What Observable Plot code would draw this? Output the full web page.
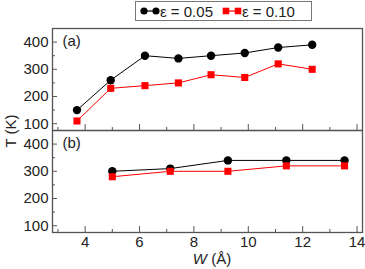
<!DOCTYPE html>
<html>
<head>
<meta charset="utf-8">
<script src="https://cdn.jsdelivr.net/npm/d3@7"></script>
<script src="https://cdn.jsdelivr.net/npm/@observablehq/plot@0.6"></script>
<style>
  body { margin: 0; background: #fff; }
  #wrap { position: relative; width: 365px; height: 269px; font-family: "Liberation Sans", Arial, sans-serif; color: #222; }
  #legend { position: absolute; left: 135px; top: 1px; width: 175px; height: 18px; border: 1.5px solid #777; background: #fff;
    display: flex; align-items: center; font-size: 15px; white-space: nowrap; }
  #legend svg { display: block; }
  #ylab { position: absolute; left: 10px; top: 131px; font-size: 15px; line-height: 1; white-space: nowrap;
    transform: translate(-50%, -50%) rotate(-90deg); }
  #xlab { position: absolute; left: 212px; top: 258px; font-size: 15px; line-height: 1; white-space: nowrap;
    transform: translate(-50%, -50%); }
</style>
</head>
<body>
<div id="wrap"></div>
<script>
// ---- data ----
const wA = [3.7, 4.94, 6.2, 7.43, 8.63, 9.87, 11.1, 12.35];
const tA005 = [150, 260, 350, 340, 350, 360, 380, 390];
const tA010 = [110, 230, 240, 250, 280, 270, 320, 300];
const wB = [5.0, 7.13, 9.25, 11.4, 13.54];
const tB005 = [300, 310, 340, 340, 340];
const tB010 = [280, 300, 300, 320, 320];
const seriesLabels = ["ε = 0.05", "ε = 0.10"];
const seriesColors = ["#000000", "#ff0000"];
const panelIds = ["a", "b"];
const panelLabels = ["(a)", "(b)"];
const yTicks = [100, 200, 300, 400];
const yMinor = [150, 250, 350];
const xTicks = [4, 6, 8, 10, 12, 14];
const xMinor = [3, 5, 7, 9, 11, 13];
const xTitle = "W";
const xUnit = " (Å)";
const yTitle = "T (K)";

// ---- build table ----
const rows = [];
wA.forEach((w, i) => {
  rows.push({panel: "a", series: seriesLabels[0], w, t: tA005[i]});
});
wA.forEach((w, i) => {
  rows.push({panel: "a", series: seriesLabels[1], w, t: tA010[i]});
});
wB.forEach((w, i) => {
  rows.push({panel: "b", series: seriesLabels[0], w, t: tB005[i]});
});
wB.forEach((w, i) => {
  rows.push({panel: "b", series: seriesLabels[1], w, t: tB010[i]});
});
const panels = panelIds.map((p, i) => ({panel: p, label: panelLabels[i]}));

const axisColor = "#555";

const chart = Plot.plot({
  width: 365,
  height: 269,
  marginLeft: 52,
  marginRight: 3,
  marginTop: 27,
  marginBottom: 37,
  style: {fontFamily: "Liberation Sans, Arial, sans-serif", fontSize: "15px", color: "#222", background: "white"},
  x: {domain: [2.8, 14.2], axis: null},
  y: {domain: [75, 450], axis: null},
  fy: {domain: panelIds, padding: 0, axis: null},
  color: {domain: seriesLabels, range: seriesColors},
  marks: [
    Plot.frame({stroke: axisColor, strokeWidth: 1.3}),
    // y ticks (inward) + labels
    Plot.axisY({ticks: yTicks, tickSize: -5, tickFormat: () => "", label: null, stroke: axisColor, facetAnchor: null}),
    Plot.axisY({ticks: yMinor, tickSize: -3, tickFormat: () => "", label: null, stroke: axisColor, facetAnchor: null}),
    Plot.axisY({ticks: yTicks, tickSize: 0, tickPadding: 4, label: null, facetAnchor: null, fill: "#222"}),
    // x ticks (inward) in all panels, labels only at bottom
    Plot.axisX({ticks: xTicks, tickSize: -6, tickFormat: () => "", label: null, stroke: axisColor, facetAnchor: null}),
    Plot.axisX({ticks: xMinor, tickSize: -3, tickFormat: () => "", label: null, stroke: axisColor, facetAnchor: null}),
    Plot.axisX({ticks: xTicks, tickSize: 0, tickPadding: 4, label: null, fill: "#222"}),
    // panel labels
    Plot.text(panels, {fy: "panel", text: "label", frameAnchor: "top-left", dx: 10, dy: 13, lineAnchor: "middle", textAnchor: "start", fontSize: 15, fill: "#222"}),
    // data
    Plot.line(rows, {x: "w", y: "t", fy: "panel", z: "series", stroke: "series", strokeWidth: 1}),
    Plot.dot(rows.filter(d => d.series === seriesLabels[0]), {x: "w", y: "t", fy: "panel", fill: "series", r: 4.2, symbol: "circle"}),
    Plot.dot(rows.filter(d => d.series === seriesLabels[1]), {x: "w", y: "t", fy: "panel", fill: "series", r: 4, symbol: "square"})
  ]
});

const wrap = document.getElementById("wrap");
wrap.appendChild(chart);

// legend
const legend = document.createElement("div");
legend.id = "legend";
function sample(color, shape) {
  const ns = "http://www.w3.org/2000/svg";
  const s = document.createElementNS(ns, "svg");
  s.setAttribute("width", 20); s.setAttribute("height", 12);
  const l = document.createElementNS(ns, "line");
  l.setAttribute("x1", 4); l.setAttribute("x2", 16); l.setAttribute("y1", 6); l.setAttribute("y2", 6);
  l.setAttribute("stroke", color); l.setAttribute("stroke-width", 1.2);
  s.appendChild(l);
  [4, 16].forEach(cx => {
    let m;
    if (shape === "circle") {
      m = document.createElementNS(ns, "circle");
      m.setAttribute("cx", cx); m.setAttribute("cy", 6); m.setAttribute("r", 3.6);
    } else {
      m = document.createElementNS(ns, "rect");
      m.setAttribute("x", cx - 3.3); m.setAttribute("y", 2.7); m.setAttribute("width", 6.6); m.setAttribute("height", 6.6);
    }
    m.setAttribute("fill", color);
    s.appendChild(m);
  });
  return s;
}
const items = [[seriesColors[0], "circle", seriesLabels[0]], [seriesColors[1], "square", seriesLabels[1]]];
items.forEach(([c, sh, lab], i) => {
  const sp = document.createElement("span");
  sp.style.display = "flex"; sp.style.alignItems = "center";
  sp.style.marginLeft = i === 0 ? "4px" : "9px";
  sp.appendChild(sample(c, sh));
  const t = document.createElement("span");
  t.textContent = lab;
  sp.appendChild(t);
  legend.appendChild(sp);
});
wrap.appendChild(legend);

// axis titles
const ylab = document.createElement("div");
ylab.id = "ylab";
ylab.textContent = yTitle;
wrap.appendChild(ylab);

const xlab = document.createElement("div");
xlab.id = "xlab";
const wi = document.createElement("i");
wi.textContent = xTitle;
xlab.appendChild(wi);
xlab.appendChild(document.createTextNode(xUnit));
wrap.appendChild(xlab);
</script>
</body>
</html>
